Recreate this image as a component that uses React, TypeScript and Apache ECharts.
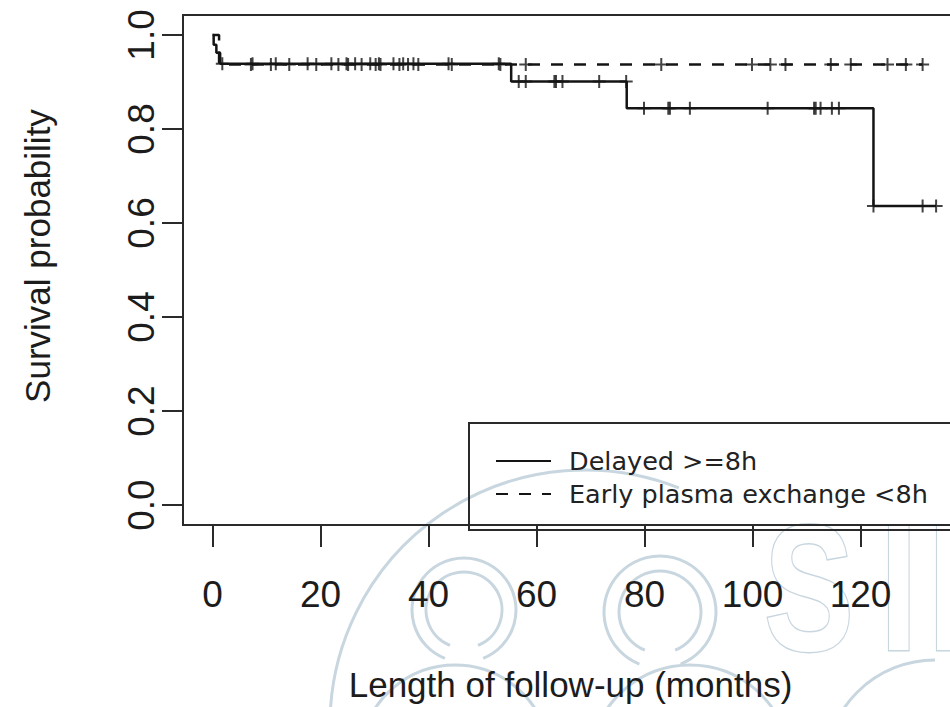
import React, { useEffect, useRef } from "react";
import * as echarts from "echarts";

// ---- data ----
const xTicks = [0, 20, 40, 60, 80, 100, 120];
const yTicks = [0, 0.2, 0.4, 0.6, 0.8, 1.0];

const delayedName = "Delayed >=8h";
const earlyName = "Early plasma exchange <8h";

// Kaplan-Meier step points (time in months, survival after that time)
const delayedTimes = [0, 0.2, 0.7, 1.4, 55.3, 76.7, 122.4, 134.0];
const delayedSurv = [1.0, 0.979, 0.962, 0.939, 0.901, 0.844, 0.636, 0.636];

const earlyTimes = [0, 1.2, 131.5];
const earlySurv = [1.0, 0.937, 0.937];

// censoring times
const delayedCensor = [
  1.8, 7.4, 11.7, 17.6, 22.0, 24.8, 26.4, 29.2, 30.8, 33.5, 35.3, 37.2, 43.7, 53.0,
  56.7, 58.0, 63.3, 63.6, 64.8, 71.6, 76.6,
  79.9, 84.4, 84.7, 88.4, 102.8, 111.4, 111.7, 112.6, 114.7, 116.0,
  122.4, 131.5, 134.0,
];
const earlyCensor = [
  7.1, 10.8, 14.2, 19.2, 23.3, 25.1, 27.6, 30.2, 31.1, 34.6, 36.2, 38.1, 44.3, 53.3,
  58.0, 83.1, 99.9, 103.3, 106.1, 114.5, 118.2, 125.0, 128.4, 131.5,
];

function survAt(times: number[], surv: number[], t: number): number {
  let v = surv[0];
  for (let i = 0; i < times.length; i++) {
    if (times[i] <= t) v = surv[i];
  }
  return v;
}

const PLUS = "path://M5.5,0h2v5.5h5.5v2h-5.5v5.5h-2v-5.5h-5.5v-2h5.5z";
const LINE = "#141414";
const TXT = "#1c1c1c";
const WM = "#c8d6df";
const SANS = "'Liberation Sans', Arial, Helvetica, sans-serif";

export default function App() {
  const ref = useRef<HTMLDivElement>(null);
  useEffect(() => {
    if (!ref.current) return;
    const chart = echarts.init(ref.current, undefined, { renderer: "svg" });
    const wmArc = (cx: number, cy: number, r: number, a0: number, a1: number) => ({
      type: "arc",
      silent: true,
      z: -10,
      shape: { cx, cy, r, startAngle: a0 * Math.PI, endAngle: a1 * Math.PI },
      style: { stroke: WM, lineWidth: 3, fill: "none" },
    });
    const wmLetter = (ch: string, x: number) => ({
      type: "text",
      silent: true,
      z: -10,
      x,
      y: 498,
      scaleX: 0.75,
      style: {
        text: ch,
        font: "bold 180px 'Liberation Sans', Arial, sans-serif",
        fill: "#ffffff",
        stroke: WM,
        lineWidth: 3,
      },
    });
    chart.setOption({
      animation: false,
      backgroundColor: "#ffffff",
      grid: {
        left: 183,
        top: 15,
        width: 799,
        height: 515,
        show: true,
        borderColor: "#2a2a2a",
        borderWidth: 2,
        backgroundColor: "transparent",
      },
      xAxis: {
        type: "value",
        min: -5.48,
        max: 142.5,
        axisLine: { show: false, onZero: false },
        splitLine: { show: false },
        axisTick: {
          show: true,
          inside: false,
          length: 22,
          customValues: xTicks,
          lineStyle: { color: "#2a2a2a", width: 2 },
        },
        axisLabel: {
          customValues: xTicks,
          margin: 51,
          fontSize: 37,
          lineHeight: 37,
          color: TXT,
          fontFamily: SANS,
        },
        name: "Length of follow-up (months)",
        nameLocation: "middle",
        nameGap: 142,
        nameTextStyle: {
          fontSize: 35,
          lineHeight: 35,
          color: TXT,
          fontFamily: SANS,
          padding: [0, 24, 0, 0],
        },
      },
      yAxis: {
        type: "value",
        min: -0.0425,
        max: 1.0425,
        axisLine: { show: false, onZero: false },
        splitLine: { show: false },
        axisTick: {
          show: true,
          inside: false,
          length: 21,
          customValues: yTicks,
          lineStyle: { color: "#2a2a2a", width: 2 },
        },
        axisLabel: {
          customValues: yTicks,
          rotate: 90,
          margin: 23,
          fontSize: 37,
          lineHeight: 37,
          color: TXT,
          fontFamily: SANS,
          formatter: (v: number) => v.toFixed(1),
        },
        name: "Survival probability",
        nameLocation: "middle",
        nameRotate: 90,
        nameGap: 128,
        nameTextStyle: {
          fontSize: 35,
          lineHeight: 35,
          color: TXT,
          fontFamily: SANS,
          padding: [0, 0, 0, 28],
        },
      },
      legend: {
        data: [delayedName, earlyName],
        orient: "vertical",
        left: 495,
        top: 448,
        padding: 0,
        itemWidth: 55,
        itemHeight: 25,
        itemGap: 7,
        selectedMode: false,
        itemStyle: { opacity: 0 },
        textStyle: {
          fontFamily: "'DejaVu Sans', Verdana, sans-serif",
          fontSize: 25.5,
          color: "#222",
          padding: [0, 0, 0, 13],
        },
      },
      graphic: [
        // faint watermark
        wmArc(585, 725, 255, 1.0, 1.62),
        wmArc(464, 610, 52, 0.62, 2.38),
        wmArc(464, 610, 38, 0.62, 2.38),
        wmArc(660, 612, 56, 0.62, 2.38),
        wmArc(660, 612, 41, 0.62, 2.38),
        wmArc(455, 760, 95, 1.05, 1.95),
        wmArc(690, 765, 100, 1.05, 1.95),
        wmArc(935, 770, 110, 1.0, 1.5),
        wmLetter("S", 764),
        wmLetter("I", 880),
        wmLetter("D", 928),
        // legend frame
        {
          type: "rect",
          z: 5,
          shape: { x: 469, y: 423, width: 600, height: 107 },
          style: { fill: "none", stroke: "#2a2a2a", lineWidth: 2 },
        },
      ],
      series: [
        {
          name: delayedName,
          type: "line",
          step: "end",
          symbol: "none",
          showSymbol: false,
          lineStyle: { color: LINE, width: 2.5, type: "solid" },
          itemStyle: { color: LINE },
          data: delayedTimes.map((t, i) => [t, delayedSurv[i]]),
          z: 3,
        },
        {
          name: earlyName,
          type: "line",
          step: "end",
          symbol: "none",
          showSymbol: false,
          lineStyle: { color: LINE, width: 2.5, type: [12, 11] },
          itemStyle: { color: LINE },
          data: earlyTimes.map((t, i) => [t, earlySurv[i]]),
          z: 3,
        },
        {
          type: "scatter",
          symbol: PLUS,
          symbolSize: 13,
          itemStyle: { color: LINE },
          data: delayedCensor.map((t) => [t, survAt(delayedTimes, delayedSurv, t)]),
          z: 4,
        },
        {
          type: "scatter",
          symbol: PLUS,
          symbolSize: 13,
          itemStyle: { color: LINE },
          data: earlyCensor.map((t) => [t, survAt(earlyTimes, earlySurv, t)]),
          z: 4,
        },
      ],
    });
    return () => chart.dispose();
  }, []);
  return (
    <div
      style={{
        position: "fixed",
        left: 0,
        top: 0,
        width: 950,
        height: 707,
        overflow: "hidden",
      }}
    >
      <div ref={ref} style={{ width: 1000, height: 707 }} />
    </div>
  );
}
